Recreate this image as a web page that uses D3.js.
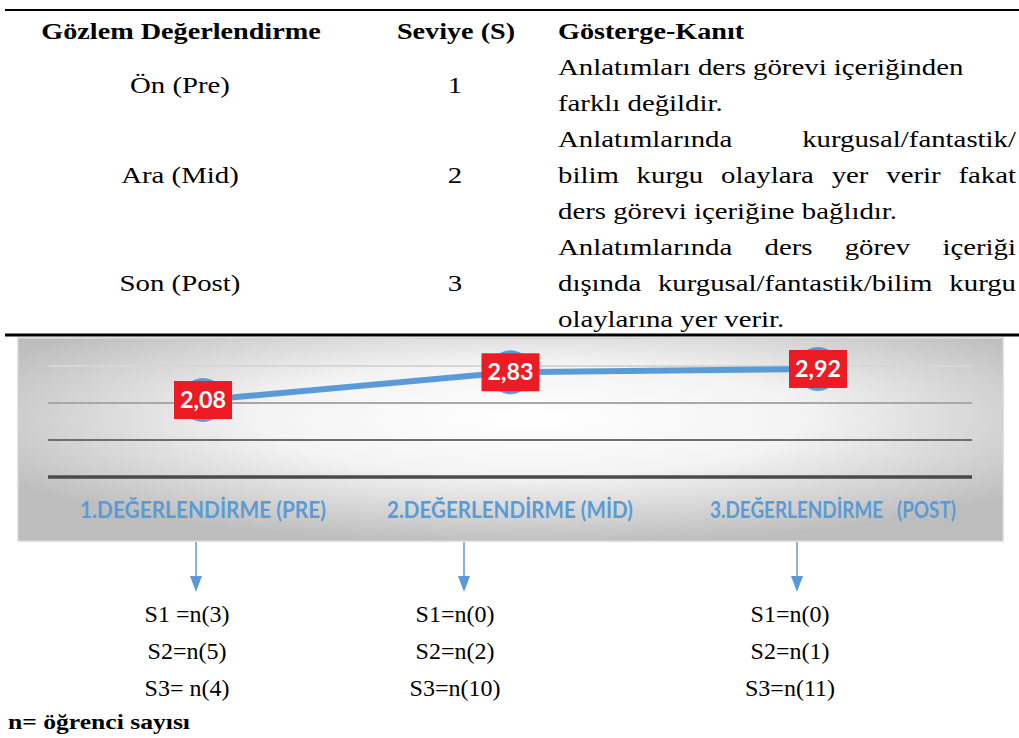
<!DOCTYPE html>
<html>
<head>
<meta charset="utf-8">
<script src="https://cdn.jsdelivr.net/npm/d3@7"></script>
<style>
  body { margin: 0; background: #fff; }
  svg { display: block; }
</style>
</head>
<body>
<div id="chart"></div>
<script>
// table content
const tableHeaders = ["Gözlem Değerlendirme", "Seviye (S)", "Gösterge-Kanıt"];
const phaseNames = ["Ön (Pre)", "Ara (Mid)", "Son (Post)"];
const levels = ["1", "2", "3"];
const evidenceLines = [
  ["Anlatımları ders görevi içeriğinden", "farklı değildir."],
  ["Anlatımlarında kurgusal/fantastik/", "bilim kurgu olaylara yer verir fakat", "ders görevi içeriğine bağlıdır."],
  ["Anlatımlarında ders görev içeriği", "dışında kurgusal/fantastik/bilim kurgu", "olaylarına yer verir."]
];
// which evidence lines are justified (full width)
const justified = [[false, false], [true, true, false], [true, true, false]];

// chart data
const categories = ["1.DEĞERLENDİRME (PRE)", "2.DEĞERLENDİRME (MİD)", "3.DEĞERLENDİRME   (POST)"];
const meanScores = [2.08, 2.83, 2.92];
const scoreLabels = ["2,08", "2,83", "2,92"];
const gridValues = [0, 1, 2, 3];
const countLines = [
  ["S1 =n(3)", "S2=n(5)", "S3= n(4)"],
  ["S1=n(0)", "S2=n(2)", "S3=n(10)"],
  ["S1=n(0)", "S2=n(1)", "S3=n(11)"]
];
const footnote = "n= öğrenci sayısı";

const W = 1019, H = 738;
const serif = "'Liberation Serif', 'Times New Roman', serif";
const sans = "Lato, 'Open Sans', sans-serif";
const blue = "#5b9bd5";
const sx = 1.2; // the original serif face is wider than Liberation Serif

const svg = d3.select("#chart").append("svg")
  .attr("width", W).attr("height", H);

function wideText(px, py, str, anchor, opts = {}) {
  return svg.append("text")
    .attr("transform", `translate(${px},${py}) scale(${opts.sx || sx},1)`)
    .attr("text-anchor", anchor)
    .attr("font-family", serif)
    .attr("font-size", opts.size || 24)
    .attr("font-weight", opts.bold ? "bold" : "normal")
    .text(str);
}

// ---- table ----
svg.append("line").attr("x1", 5).attr("x2", W).attr("y1", 10).attr("y2", 10)
  .attr("stroke", "#000").attr("stroke-width", 2);
svg.append("line").attr("x1", 5).attr("x2", W).attr("y1", 335).attr("y2", 335)
  .attr("stroke", "#000").attr("stroke-width", 3);

const headerX = [181, 456, 558];
const headerAnchor = ["middle", "middle", "start"];
tableHeaders.forEach((h, i) => wideText(headerX[i], 39, h, headerAnchor[i], { bold: true, size: 23.5 }));

const lineStep = 36;
const firstLineY = 75;
const textLeft = 558, textRight = 1016;
let lineIdx = 0;
const rowCenters = [];
evidenceLines.forEach((rows, r) => {
  const start = lineIdx;
  rows.forEach((t, k) => {
    const ly = firstLineY + lineIdx * lineStep;
    if (justified[r][k]) {
      const words = t.split(" ");
      const g = svg.append("g")
        .attr("transform", `translate(${textLeft},${ly}) scale(${sx},1)`);
      const nodes = words.map(w => g.append("text")
        .attr("font-family", serif).attr("font-size", 24).text(w));
      const widths = nodes.map(n => n.node().getComputedTextLength());
      const total = d3.sum(widths);
      const gap = ((textRight - textLeft) / sx - total) / (words.length - 1);
      let cx = 0;
      nodes.forEach((n, j) => {
        if (j === words.length - 1) {
          n.attr("x", (textRight - textLeft) / sx).attr("text-anchor", "end");
        } else {
          n.attr("x", cx);
        }
        cx += widths[j] + gap;
      });
    } else {
      wideText(textLeft, ly, t, "start");
    }
    lineIdx++;
  });
  rowCenters.push(firstLineY + ((start + lineIdx - 1) / 2) * lineStep);
});

phaseNames.forEach((p, i) => wideText(180, rowCenters[i], p, "middle"));
levels.forEach((l, i) => wideText(455, rowCenters[i], l, "middle"));

// ---- chart panel ----
const panel = { x: 18, y: 338, w: 985, h: 203 };
const defs = svg.append("defs");
const grad = defs.append("radialGradient").attr("id", "bg")
  .attr("cx", "52%").attr("cy", "40%").attr("r", "62%");
grad.append("stop").attr("offset", "0%").attr("stop-color", "#ffffff");
grad.append("stop").attr("offset", "45%").attr("stop-color", "#f3f3f3");
grad.append("stop").attr("offset", "100%").attr("stop-color", "#bdbdbd");
svg.append("rect")
  .attr("x", panel.x).attr("y", panel.y).attr("width", panel.w).attr("height", panel.h)
  .attr("fill", "url(#bg)").attr("stroke", "#d6d6d6").attr("stroke-width", 1.5);

const x = d3.scalePoint().domain(categories).range([203, 818]);
const y = d3.scaleLinear().domain([0, 3]).range([477, 366]);

const gridColor = ["#4a4a4a", "#6e6e6e", "#a8a8a8", "#d6d6d6"];
const gridWidth = [3.5, 2, 2, 2];
svg.selectAll("line.grid").data(gridValues).join("line")
  .attr("class", "grid")
  .attr("x1", 48).attr("x2", 972)
  .attr("y1", d => y(d)).attr("y2", d => y(d))
  .attr("stroke", (d, i) => gridColor[i]).attr("stroke-width", (d, i) => gridWidth[i]);

const pts = categories.map((c, i) => ({ c, v: meanScores[i], label: scoreLabels[i] }));

svg.append("path").datum(pts)
  .attr("fill", "none").attr("stroke", blue).attr("stroke-width", 6)
  .attr("d", d3.line().x(d => x(d.c)).y(d => y(d.v)));

svg.selectAll("circle.pt").data(pts).join("circle")
  .attr("class", "pt")
  .attr("cx", d => x(d.c)).attr("cy", d => y(d.v)).attr("r", 22)
  .attr("fill", blue);

const lab = svg.selectAll("g.lab").data(pts).join("g")
  .attr("class", "lab")
  .attr("transform", d => `translate(${x(d.c)},${y(d.v)})`);
lab.append("rect").attr("x", -29).attr("y", -19).attr("width", 58).attr("height", 38)
  .attr("fill", "#ed1c24");
lab.append("text").attr("text-anchor", "middle").attr("y", 8)
  .attr("font-family", sans).attr("font-weight", "bold").attr("font-size", 22)
  .attr("textLength", 46).attr("lengthAdjust", "spacingAndGlyphs")
  .attr("fill", "#fff").text(d => d.label);

// category axis labels
const catCenters = [203, 510, 833];
svg.selectAll("text.cat").data(categories).join("text")
  .attr("class", "cat")
  .attr("x", (d, i) => catCenters[i]).attr("y", 518)
  .attr("text-anchor", "middle")
  .attr("font-family", sans).attr("font-weight", "bold").attr("font-size", 22)
  .attr("fill", blue)
  .attr("textLength", 246).attr("lengthAdjust", "spacingAndGlyphs")
  .style("white-space", "pre")
  .text(d => d);

// ---- arrows & counts ----
const arrowX = [196, 464, 797];
const countX = [187, 455, 790];
arrowX.forEach(ax => {
  svg.append("line").attr("x1", ax).attr("x2", ax).attr("y1", 542).attr("y2", 578)
    .attr("stroke", blue).attr("stroke-width", 1.5);
  svg.append("path")
    .attr("d", `M${ax - 6},576 L${ax + 6},576 L${ax},592 Z`)
    .attr("fill", blue);
});

countLines.forEach((lines, i) => {
  lines.forEach((t, k) => {
    svg.append("text")
      .attr("x", countX[i]).attr("y", 622 + k * 37)
      .attr("text-anchor", "middle")
      .attr("font-family", serif).attr("font-size", 24)
      .style("white-space", "pre")
      .text(t);
  });
});

wideText(8, 729, footnote, "start", { bold: true, size: 21, sx: 1.22 });
</script>
</body>
</html>
